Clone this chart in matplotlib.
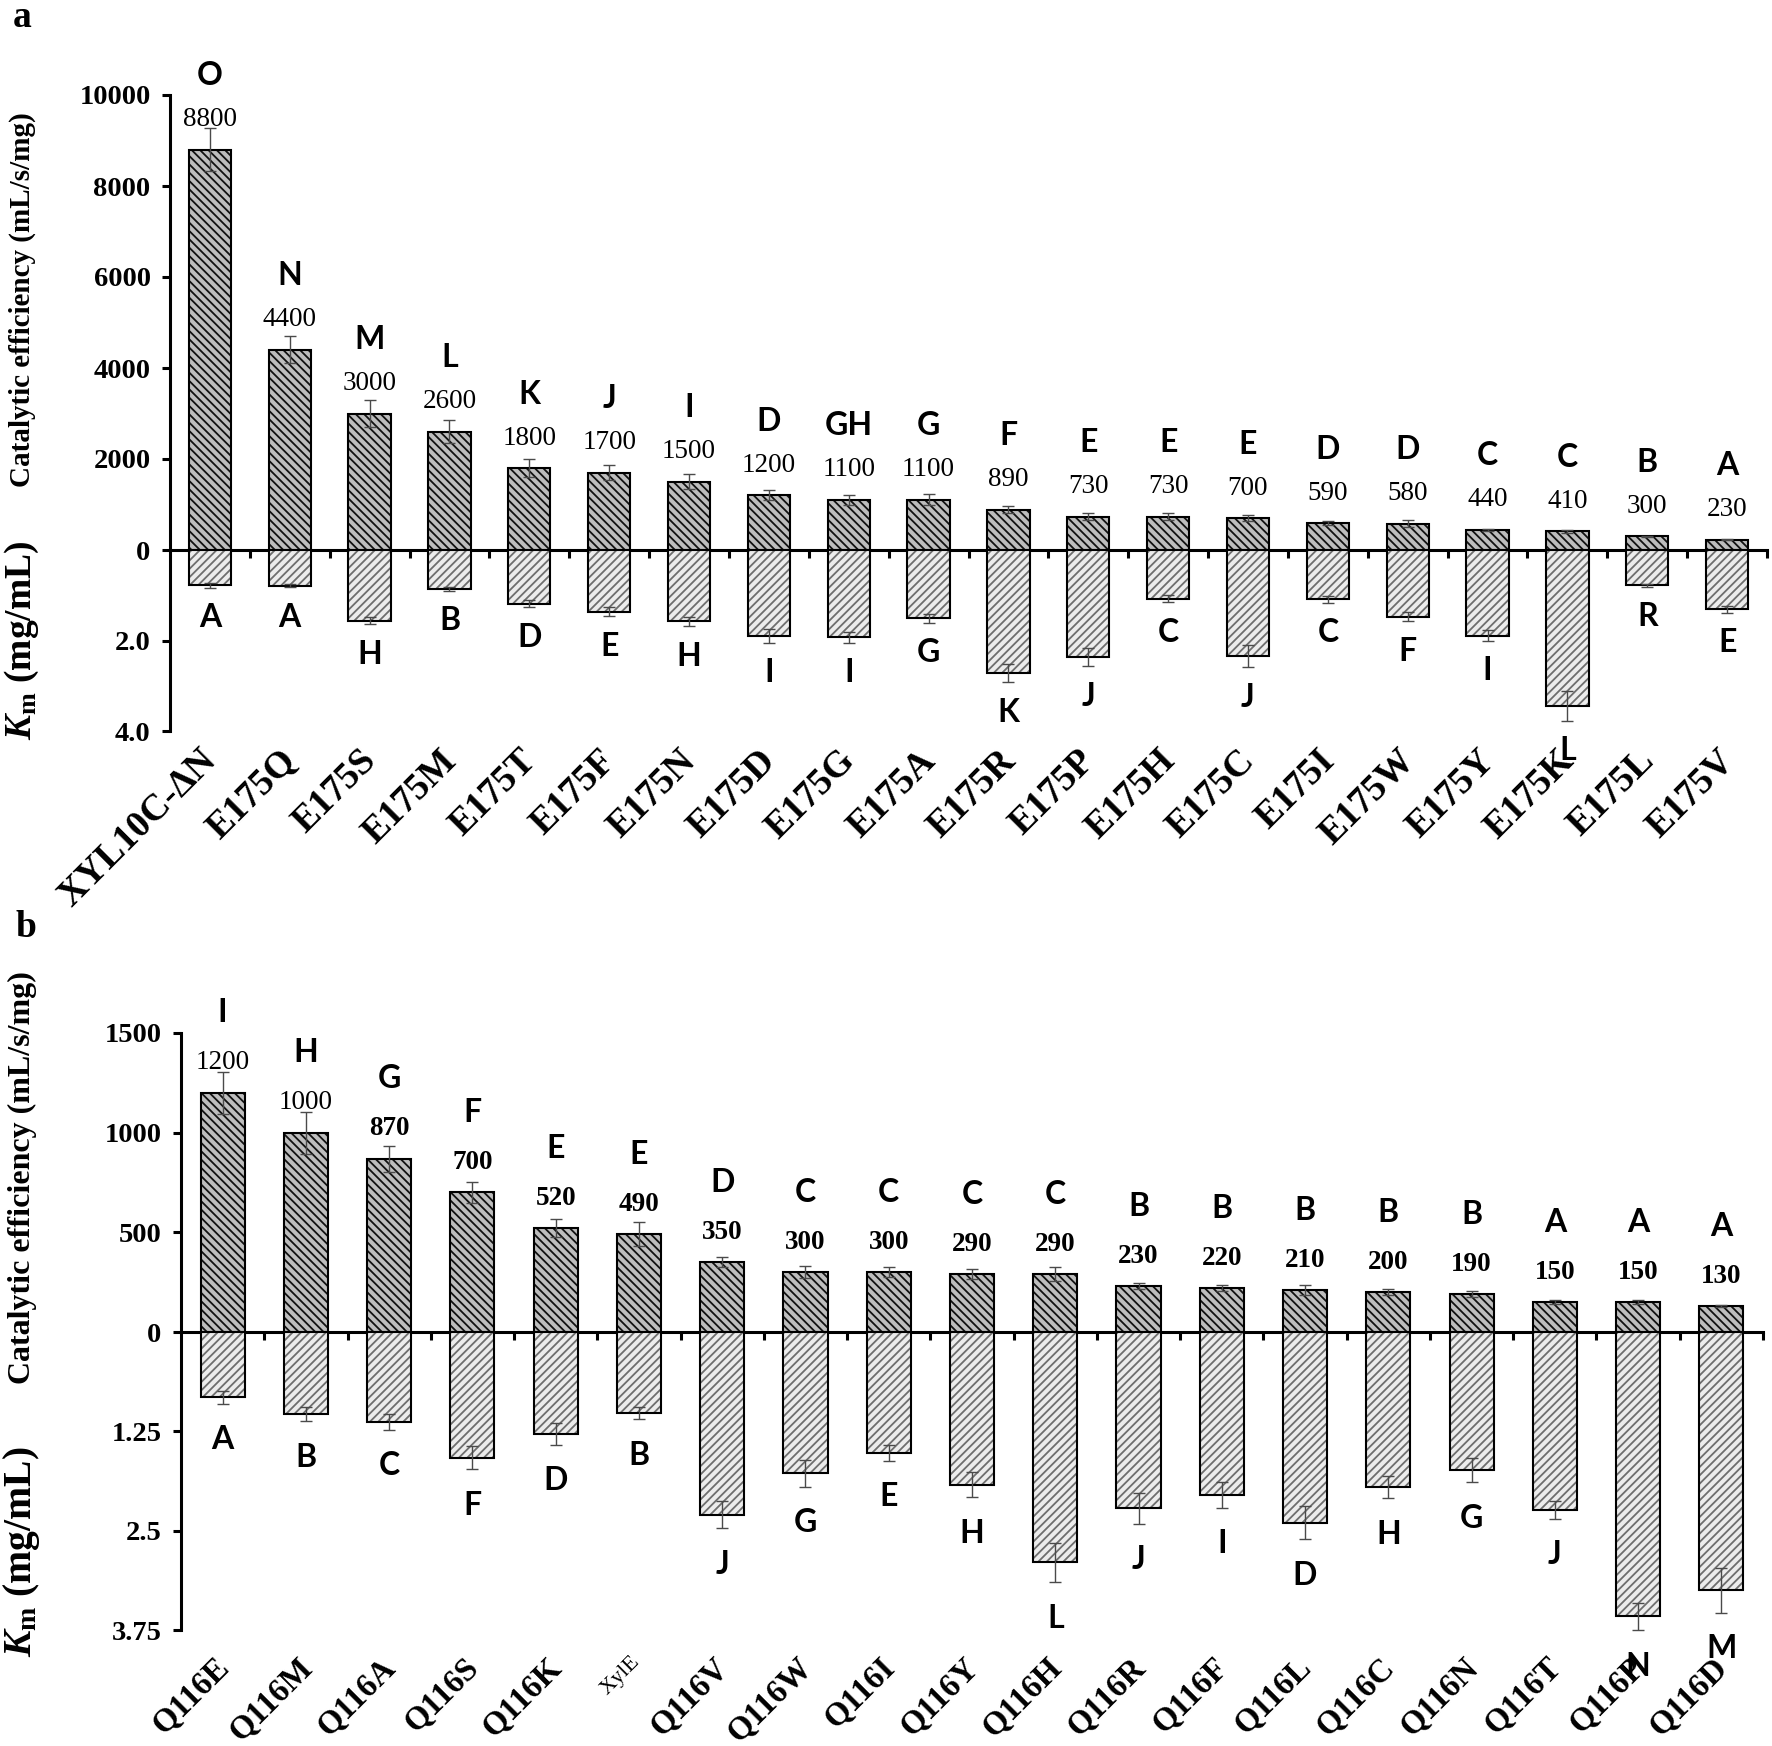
import matplotlib
matplotlib.use("Agg")
import matplotlib.pyplot as plt
from matplotlib.transforms import ScaledTranslation

# ---------------- data ----------------
a_names = ["XYL10C-ΔN", "E175Q", "E175S", "E175M", "E175T", "E175F", "E175N", "E175D",
           "E175G", "E175A", "E175R", "E175P", "E175H", "E175C", "E175I", "E175W",
           "E175Y", "E175K", "E175L", "E175V"]
a_eff = [8800, 4400, 3000, 2600, 1800, 1700, 1500, 1200, 1100, 1100, 890, 730, 730, 700,
         590, 580, 440, 410, 300, 230]
a_eff_err = [470, 300, 300, 250, 190, 170, 160, 110, 110, 120, 80, 80, 80, 70, 40, 70,
             15, 30, 15, 15]
a_eff_grp = ["O", "N", "M", "L", "K", "J", "I", "D", "GH", "G", "F", "E", "E", "E", "D",
             "D", "C", "C", "B", "A"]
a_km = [0.78, 0.79, 1.56, 0.86, 1.19, 1.36, 1.58, 1.90, 1.93, 1.51, 2.72, 2.37, 1.08,
        2.35, 1.09, 1.47, 1.89, 3.44, 0.78, 1.31]
a_km_err = [0.05, 0.03, 0.08, 0.04, 0.08, 0.10, 0.10, 0.15, 0.12, 0.10, 0.20, 0.20, 0.08,
            0.24, 0.08, 0.10, 0.12, 0.33, 0.03, 0.08]
a_km_grp = ["A", "A", "H", "B", "D", "E", "H", "I", "I", "G", "K", "J", "C", "J", "C",
            "F", "I", "L", "R", "E"]

b_names = ["Q116E", "Q116M", "Q116A", "Q116S", "Q116K", "XylE", "Q116V", "Q116W", "Q116I",
           "Q116Y", "Q116H", "Q116R", "Q116F", "Q116L", "Q116C", "Q116N", "Q116T",
           "Q116P", "Q116D"]
b_eff = [1200, 1000, 870, 700, 520, 490, 350, 300, 300, 290, 290, 230, 220, 210, 200, 190,
         150, 150, 130]
b_eff_err = [105, 105, 65, 55, 45, 60, 25, 30, 25, 25, 35, 15, 15, 25, 15, 15, 12, 12, 5]
b_eff_grp = ["I", "H", "G", "F", "E", "E", "D", "C", "C", "C", "C", "B", "B", "B", "B",
             "B", "A", "A", "A"]
b_km = [0.82, 1.03, 1.13, 1.58, 1.28, 1.02, 2.30, 1.78, 1.52, 1.92, 2.90, 2.22, 2.05,
        2.40, 1.95, 1.74, 2.24, 3.58, 3.25]
b_km_err = [0.08, 0.09, 0.10, 0.15, 0.14, 0.08, 0.17, 0.17, 0.10, 0.16, 0.25, 0.19, 0.16,
            0.21, 0.14, 0.15, 0.11, 0.17, 0.28]
b_km_grp = ["A", "B", "C", "F", "D", "B", "J", "G", "E", "H", "L", "J", "I", "D", "H",
            "G", "J", "N", "M"]

a_eff_ticks = [0, 2000, 4000, 6000, 8000, 10000]
a_km_ticks = [2.0, 4.0]
a_km_ticklabels = ["2.0", "4.0"]
b_eff_ticks = [0, 500, 1000, 1500]
b_km_ticks = [1.25, 2.5, 3.75]
b_km_ticklabels = ["1.25", "2.5", "3.75"]

# ---------------- style ----------------
SERIF = "Liberation Serif"
LETTER = "Lato"
plt.rcParams["hatch.linewidth"] = 1.3
plt.rcParams["mathtext.fontset"] = "custom"
plt.rcParams["mathtext.rm"] = "Liberation Serif:bold"
plt.rcParams["mathtext.it"] = "Liberation Serif:bold:italic"
plt.rcParams["mathtext.bf"] = "Liberation Serif:bold"

W, H = 1772, 1746
fig = plt.figure(figsize=(W / 100, H / 100), dpi=100)

SPW = 2.2  # spine width (pt)
PX = 0.72  # px -> pt


def px_axes(left, right, top, bottom):
    return fig.add_axes([left / W, 1 - bottom / H, (right - left) / W, (bottom - top) / H])


def draw_panel(box, names, eff, eff_err, eff_grp, km, km_err, km_grp,
               eff_ticks, km_ticks, km_ticklabels, km_max, label_small=None,
               num_off=30, let_off=45, km_off=31, xlab_pad=6, xlab_shift=0,
               xlab_size=27, bold_from=None):
    left, right, top, mid, bottom = box
    n = len(names)
    x = list(range(n))
    ax_t = px_axes(left, right, top, mid)
    ax_b = px_axes(left, right, mid, bottom)
    wbar = 0.53

    # top bars (catalytic efficiency)
    ax_t.bar(x, eff, width=wbar, color="#bdbdbd", edgecolor="#111111",
             hatch="\\\\\\\\", linewidth=0, zorder=2)
    ax_t.bar(x, eff, width=wbar, fill=False, edgecolor="black", linewidth=1.5, zorder=3)
    ax_t.errorbar(x, eff, yerr=eff_err, fmt="none", ecolor="#4a4a4a", elinewidth=1.0,
                  capsize=4.5, capthick=1.0, zorder=4, clip_on=False)
    ax_t.set_xlim(-0.5, n - 0.5)
    ax_t.set_ylim(0, eff_ticks[-1])

    # bottom bars (Km)
    ax_b.bar(x, km, width=wbar, color="#ececec", edgecolor="#6e6e6e",
             hatch="////", linewidth=0, zorder=2)
    ax_b.bar(x, km, width=wbar, fill=False, edgecolor="black", linewidth=1.5, zorder=3)
    ax_b.errorbar(x, km, yerr=km_err, fmt="none", ecolor="#4a4a4a", elinewidth=1.0,
                  capsize=4.5, capthick=1.0, zorder=4, clip_on=False)
    ax_b.set_xlim(-0.5, n - 0.5)
    ax_b.set_ylim(km_max, 0)

    for ax in (ax_t, ax_b):
        ax.set_facecolor("none")
        for s in ("top", "right"):
            ax.spines[s].set_visible(False)
        ax.spines["left"].set_linewidth(SPW)
    ax_b.spines["bottom"].set_visible(False)
    ax_t.spines["bottom"].set_linewidth(SPW)
    ax_t.spines["bottom"].set_zorder(5)

    # y ticks
    ax_t.set_yticks(eff_ticks)
    ax_t.set_yticklabels([str(t) for t in eff_ticks], fontfamily=SERIF,
                         fontweight="bold", fontsize=20.5)
    ax_t.tick_params(axis="y", direction="out", length=6, width=SPW, pad=8)
    ax_b.set_yticks(km_ticks)
    ax_b.set_yticklabels(km_ticklabels, fontfamily=SERIF, fontweight="bold", fontsize=20.5)
    ax_b.tick_params(axis="y", direction="out", length=6, width=SPW, pad=8)

    # x ticks: small marks between bars on the zero line
    ax_t.set_xticks([i + 0.5 for i in x])
    ax_t.set_xticklabels([])
    ax_t.tick_params(axis="x", direction="out", length=6, width=SPW)
    ax_b.set_xticks(x)
    ax_b.set_xticklabels(names, rotation=45, ha="right", va="top",
                         rotation_mode="anchor", fontfamily=SERIF, fontweight="bold",
                         fontsize=xlab_size)
    ax_b.tick_params(axis="x", length=0, pad=xlab_pad * PX)
    shift = ScaledTranslation(xlab_shift / 100, 0, fig.dpi_scale_trans)
    for t in ax_b.get_xticklabels():
        t.set_transform(t.get_transform() + shift)
        if label_small is not None and t.get_text() == label_small:
            t.set_fontsize(16)
            t.set_fontweight("normal")

    # value labels and group letters
    for i in x:
        top_val = eff[i]
        wt = "bold" if (bold_from is not None and i >= bold_from) else "normal"
        ax_t.annotate(str(eff[i]), (i, top_val), xytext=(0, num_off * PX),
                      textcoords="offset points", ha="center", va="center",
                      fontfamily=SERIF, fontsize=19.5, fontweight=wt,
                      annotation_clip=False)
        ax_t.annotate(eff_grp[i], (i, top_val), xytext=(0, (num_off + let_off) * PX),
                      textcoords="offset points", ha="center", va="center",
                      fontfamily=LETTER, fontweight="bold", fontsize=23,
                      annotation_clip=False)
        ax_b.annotate(km_grp[i], (i, km[i] + km_err[i]), xytext=(0, -km_off * PX),
                      textcoords="offset points", ha="center", va="center",
                      fontfamily=LETTER, fontweight="bold", fontsize=23,
                      annotation_clip=False)
    return ax_t, ax_b


# panel a
draw_panel((170, 1767, 95, 550, 731), a_names, a_eff, a_eff_err, a_eff_grp,
           a_km, a_km_err, a_km_grp, a_eff_ticks, a_km_ticks, a_km_ticklabels, 4.0,
           num_off=30, let_off=44, km_off=30, xlab_pad=12, xlab_shift=-11, xlab_size=27)
# panel b
draw_panel((181, 1763, 1033, 1332, 1630), b_names, b_eff, b_eff_err, b_eff_grp,
           b_km, b_km_err, b_km_grp, b_eff_ticks, b_km_ticks, b_km_ticklabels, 3.75,
           label_small="XylE", num_off=30, let_off=50, km_off=36, xlab_pad=22,
           xlab_shift=-9, xlab_size=23.5, bold_from=2)

# axis titles
lab_kw = dict(rotation=90, ha="center", va="center", fontfamily=SERIF,
              fontweight="bold")
fig.text(22 / W, 1 - 300 / H, "Catalytic efficiency (mL/s/mg)", fontsize=21, **lab_kw)
fig.text(22 / W, 1 - 640 / H, r"$\mathit{K}_{\mathrm{m}}$ (mg/mL)", fontsize=27, **lab_kw)
fig.text(22 / W, 1 - 1178 / H, "Catalytic efficiency (mL/s/mg)", fontsize=23, **lab_kw)
fig.text(22 / W, 1 - 1552 / H, r"$\mathit{K}_{\mathrm{m}}$ (mg/mL)", fontsize=28.5, **lab_kw)

# panel letters
fig.text(13 / W, 1 - 0 / H, "a", ha="left", va="top", fontfamily=SERIF,
         fontweight="bold", fontsize=27)
fig.text(15 / W, 1 - 910 / H, "b", ha="left", va="top", fontfamily=SERIF,
         fontweight="bold", fontsize=27)

fig.savefig("out.png", dpi=100, facecolor="white")
